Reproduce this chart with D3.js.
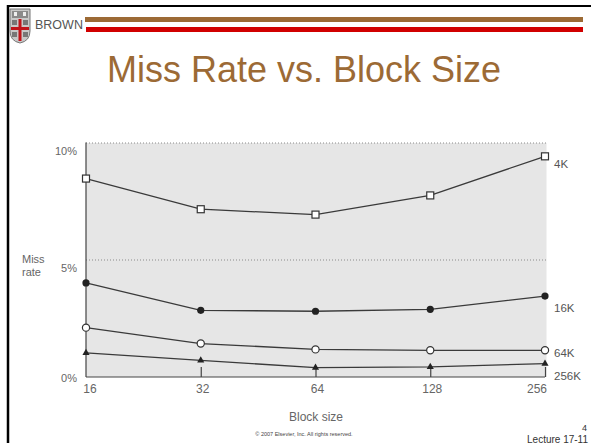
<!DOCTYPE html>
<html>
<head>
<meta charset="utf-8">
<script src="https://cdn.jsdelivr.net/npm/d3@7"></script>
<style>
  html, body { margin: 0; padding: 0; background: #fff; }
  svg { display: block; }
  text { font-family: "Liberation Sans", Arial, sans-serif; }
</style>
</head>
<body>
<script>
// ---- data ----
const blockSizes = [16, 32, 64, 128, 256];
const seriesNames = ["4K", "16K", "64K", "256K"];
const missRate4K   = [8.48, 7.17, 6.94, 7.76, 9.43];
const missRate16K  = [4.02, 2.85, 2.81, 2.89, 3.46];
const missRate64K  = [2.11, 1.43, 1.18, 1.14, 1.14];
const missRate256K = [1.03, 0.71, 0.40, 0.43, 0.57];
const yTicks = [0, 5, 10];
const yTickLabels = ["0%", "5%", "10%"];

const W = 591, H = 445;
const svg = d3.select("body").append("svg").attr("width", W).attr("height", H);

// slide frame
svg.append("line").attr("x1", 8).attr("x2", 8).attr("y1", 5).attr("y2", 443)
  .attr("stroke", "#000").attr("stroke-width", 2.5);
svg.append("line").attr("x1", 7).attr("x2", W).attr("y1", 6).attr("y2", 6)
  .attr("stroke", "#000").attr("stroke-width", 2);

// header bars
svg.append("rect").attr("x", 85).attr("y", 17).attr("width", 498).attr("height", 5).attr("fill", "#9c6a35");
svg.append("rect").attr("x", 86).attr("y", 27).attr("width", 497).attr("height", 5).attr("fill", "#d10000");

// logo (simplified shield)
const logo = svg.append("g").attr("transform", "translate(10,9)");
logo.append("path").attr("d", "M0,0 H20 V22 Q20,32 10,34 Q0,32 0,22 Z")
  .attr("fill", "#c8c8c8").attr("stroke", "#777").attr("stroke-width", 1);
logo.append("rect").attr("x", 2).attr("y", 2).attr("width", 16).attr("height", 7).attr("fill", "#8a8a8a");
logo.append("rect").attr("x", 4).attr("y", 3).attr("width", 3).attr("height", 4).attr("fill", "#eee");
logo.append("rect").attr("x", 13).attr("y", 3).attr("width", 3).attr("height", 4).attr("fill", "#eee");
logo.append("rect").attr("x", 8.5).attr("y", 10).attr("width", 3).attr("height", 22).attr("fill", "#c0141b");
logo.append("rect").attr("x", 1).attr("y", 18).attr("width", 18).attr("height", 3).attr("fill", "#c0141b");
logo.append("rect").attr("x", 2).attr("y", 11).attr("width", 5).attr("height", 5).attr("fill", "#777");
logo.append("rect").attr("x", 13).attr("y", 11).attr("width", 5).attr("height", 5).attr("fill", "#777");
logo.append("rect").attr("x", 2).attr("y", 23).attr("width", 5).attr("height", 5).attr("fill", "#777");
logo.append("rect").attr("x", 13).attr("y", 23).attr("width", 5).attr("height", 5).attr("fill", "#777");

svg.append("text").attr("x", 35).attr("y", 29).text("BROWN")
  .attr("font-family", "'Liberation Serif', serif").attr("font-size", 12.5)
  .attr("fill", "#555");

// title
svg.append("text").attr("x", 304).attr("y", 82).attr("text-anchor", "middle")
  .attr("font-size", 36).attr("fill", "#9c6a35").text("Miss Rate vs. Block Size");

// ---- chart ----
const x = d3.scaleLog().base(2).domain([16, 256]).range([86, 545]);
const y = d3.scaleLinear().domain([0, 10]).range([377, 143]);
const plotRight = 546.5;

svg.append("rect").attr("x", x(16)).attr("y", y(10))
  .attr("width", plotRight - x(16)).attr("height", y(0) - y(10)).attr("fill", "#e6e6e6");

// dotted grid
svg.append("g").selectAll("line").data(yTicks.filter(d => d > 0)).join("line")
  .attr("x1", x(16)).attr("x2", plotRight).attr("y1", d => y(d)).attr("y2", d => y(d))
  .attr("stroke", "#8a8a8a").attr("stroke-width", 1).attr("stroke-dasharray", "1,2");

// axes
const xAxis = d3.axisBottom(x).tickValues(blockSizes).tickSize(-10).tickFormat("");
const gx = svg.append("g").attr("transform", `translate(0,${y(0)})`).call(xAxis);
gx.select(".domain").attr("stroke", "#444").attr("stroke-width", 1.2).attr("d", `M${x(16)},0H${x(256)}`);
gx.selectAll(".tick line").attr("stroke", "#444").attr("stroke-width", 1.2);
gx.selectAll(".tick").filter(d => d === 16).remove();

svg.append("line").attr("x1", x(16)).attr("x2", x(16)).attr("y1", y(10) - 0.5).attr("y2", y(0))
  .attr("stroke", "#444").attr("stroke-width", 1.2);

// tick labels
svg.append("g").selectAll("text").data(blockSizes).join("text")
  .attr("x", (d, i) => x(d) + (i === 0 ? 4 : i === 4 ? -8 : 2)).attr("y", 393)
  .attr("text-anchor", "middle").attr("font-size", 12).attr("fill", "#666").text(d => d);

svg.append("g").selectAll("text").data(yTicks).join("text")
  .attr("x", 77).attr("y", d => y(d) + (d === 0 ? 5 : 12))
  .attr("text-anchor", "end").attr("font-size", 11).attr("fill", "#666")
  .text((d, i) => yTickLabels[i]);

svg.append("text").attr("x", 22).attr("y", 263).attr("font-size", 11).attr("fill", "#666").text("Miss");
svg.append("text").attr("x", 22).attr("y", 276).attr("font-size", 11).attr("fill", "#666").text("rate");

svg.append("text").attr("x", 316).attr("y", 421).attr("text-anchor", "middle")
  .attr("font-size", 12).attr("fill", "#666").text("Block size");
svg.append("text").attr("x", 304).attr("y", 436).attr("text-anchor", "middle")
  .attr("font-size", 5.5).attr("fill", "#444").text("© 2007 Elsevier, Inc. All rights reserved.");

// lines + markers
const seriesValues = [missRate4K, missRate16K, missRate64K, missRate256K];
const markerTypes = ["openSquare", "filledCircle", "openCircle", "filledTriangle"];
const labelDy = [8, 12, 3, 12];

const line = d3.line().x((d, i) => x(blockSizes[i])).y(d => y(d));
seriesValues.forEach((vals, s) => {
  svg.append("path").datum(vals).attr("d", line)
    .attr("fill", "none").attr("stroke", "#3a3a3a").attr("stroke-width", 1.3);
  const g = svg.append("g");
  const pts = g.selectAll("g").data(vals).join("g")
    .attr("transform", (d, i) => `translate(${x(blockSizes[i])},${y(d)})`);
  const t = markerTypes[s];
  if (t === "openSquare") {
    pts.append("rect").attr("x", -3.5).attr("y", -3.5).attr("width", 7).attr("height", 7)
      .attr("fill", "#fff").attr("stroke", "#333").attr("stroke-width", 1.2);
  } else if (t === "filledCircle") {
    pts.append("circle").attr("r", 3.6).attr("fill", "#222");
  } else if (t === "openCircle") {
    pts.append("circle").attr("r", 3.6).attr("fill", "#fff").attr("stroke", "#333").attr("stroke-width", 1.2);
  } else {
    pts.append("path").attr("d", d3.symbol(d3.symbolTriangle, 22)).attr("fill", "#222");
  }
  svg.append("text").attr("x", 554).attr("y", y(vals[vals.length - 1]) + labelDy[s] + 4)
    .attr("font-size", 11.5).attr("fill", "#555").text(seriesNames[s]);
});

// footer
svg.append("text").attr("x", 587).attr("y", 431).attr("text-anchor", "end")
  .attr("font-size", 9).attr("fill", "#333").text("4");
svg.append("text").attr("x", 588).attr("y", 443).attr("text-anchor", "end")
  .attr("font-size", 10).attr("fill", "#333").text("Lecture 17-11");
</script>
</body>
</html>
